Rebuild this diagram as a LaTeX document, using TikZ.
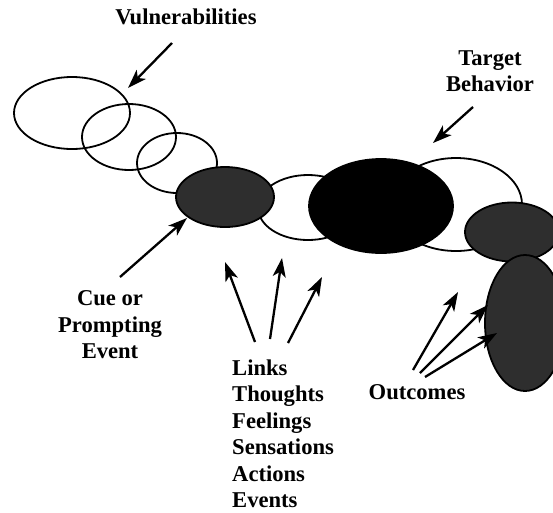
\documentclass[tikz,border=0pt]{standalone}
\usepackage{fontspec}
\setmainfont{Liberation Serif}
\usetikzlibrary{shapes.geometric,arrows.meta}
\tikzset{
  ring/.style={shape=ellipse,draw=black,line width=1.8pt,inner sep=0pt},
  shaded/.style={ring,fill=black!82},
  txt/.style={font=\fontsize{22.6}{26.5}\selectfont\bfseries,inner sep=0pt},
  pointer/.style={line width=2.3pt,-{Stealth[length=19pt,width=13pt,inset=5pt]}}
}
\begin{document}
\begin{tikzpicture}[x=1pt,y=-1pt]
\useasboundingbox (0,0) rectangle (553,512);
\node[ring,minimum width=116pt,minimum height=72pt] (vul1) at (72,113) {};
\node[ring,minimum width=94pt,minimum height=66pt] (vul2) at (129,137) {};
\node[ring,minimum width=80pt,minimum height=60pt] (vul3) at (177,163) {};
\node[ring,fill=white,minimum width=100pt,minimum height=65pt] (link) at (308,207.5) {};
\node[ring,fill=white,minimum width=132pt,minimum height=93pt] (after) at (456,204.5) {};
\node[shaded,minimum width=98pt,minimum height=60pt] (cue) at (225,197) {};
\node[ring,fill=black,minimum width=144pt,minimum height=94pt] (target) at (381,206) {};
\node[shaded,minimum width=94pt,minimum height=59pt] (out1) at (512,232) {};
\node[shaded,minimum width=80pt,minimum height=136pt] (out2) at (525,323) {};
\node[txt] (vultxt) at (186,17) {Vulnerabilities};
\node[txt,align=center] (targettxt) at (490,71) {Target\\Behavior};
\node[txt,align=center] (cuetxt) at (110,325) {Cue or\\Prompting\\Event};
\node[txt,align=left,anchor=west] (linktxt) at (232,434) {Links\\Thoughts\\Feelings\\Sensations\\Actions\\Events};
\node[txt] (outtxt) at (417,392) {Outcomes};
\coordinate (v0) at (172,43);
\coordinate (v1) at (128,88);
\coordinate (t0) at (473,107);
\coordinate (t1) at (433,143);
\coordinate (c0) at (120,277);
\coordinate (c1) at (187,218);
\coordinate (la0) at (255,342);
\coordinate (la1) at (225,262);
\coordinate (lb0) at (270,339);
\coordinate (lb1) at (282,258);
\coordinate (lc0) at (288,343);
\coordinate (lc1) at (322,277);
\coordinate (oa0) at (413,370);
\coordinate (oa1) at (458,292);
\coordinate (ob0) at (420,373);
\coordinate (ob1) at (488,305);
\coordinate (oc0) at (425,377);
\coordinate (oc1) at (497,333);
\path [pointer] (v0) edge (v1);
\path [pointer] (t0) edge (t1);
\path [pointer] (c0) edge (c1);
\path [pointer] (la0) edge (la1);
\path [pointer] (lb0) edge (lb1);
\path [pointer] (lc0) edge (lc1);
\path [pointer] (oa0) edge (oa1);
\path [pointer] (ob0) edge (ob1);
\path [pointer] (oc0) edge (oc1);
\end{tikzpicture}
\end{document}
